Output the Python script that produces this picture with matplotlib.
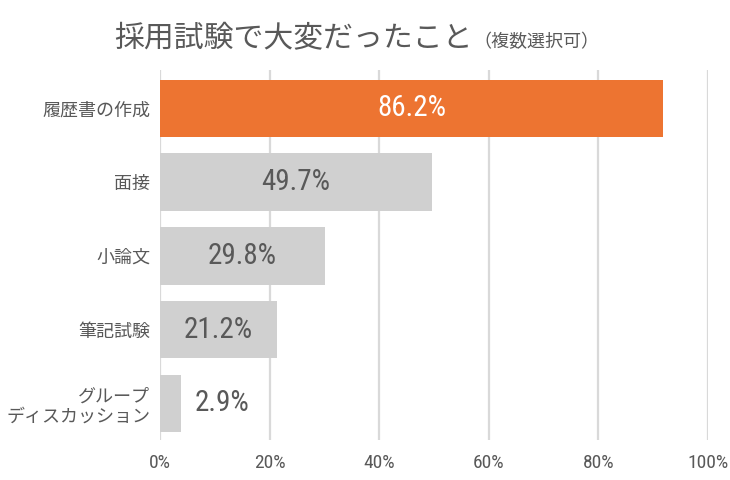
import matplotlib
matplotlib.use("Agg")
import matplotlib.pyplot as plt
from matplotlib import font_manager as fm

categories = ["履歴書の作成", "面接", "小論文", "筆記試験", "グループ\nディスカッション"]
bar_lengths = [91.8, 49.6, 30.1, 21.4, 3.9]      # bar lengths as drawn on the axis (%)
value_labels = ["86.2%", "49.7%", "29.8%", "21.2%", "2.9%"]
tick_values = [0, 20, 40, 60, 80, 100]
tick_labels = ["0%", "20%", "40%", "60%", "80%", "100%"]
title_main = "採用試験で大変だったこと"
title_sub = "（複数選択可）"

names = {f.name for f in fm.fontManager.ttflist}
cjk = "Noto Sans CJK JP"
num_font = cjk
for cand in ["Roboto Condensed", "Liberation Sans Narrow", "DejaVu Sans Condensed", "Open Sans Condensed"]:
    if cand in names:
        num_font = cand
        break

plt.rcParams["font.family"] = [cjk, "DejaVu Sans"]

TEXT = "#595959"
GRAY = "#d0d0d0"
ORANGE = "#ED7431"
GRID = "#d9d9d9"

fig = plt.figure(figsize=(7.3, 4.8), dpi=100)
ax = fig.add_axes([0.219, 0.083, 0.751, 0.771])

colors = [ORANGE] + [GRAY] * (len(categories) - 1)
ypos = list(range(len(categories)))
ax.barh(ypos, bar_lengths, height=0.78, color=colors, zorder=2)

ax.set_xlim(0, 100)
ax.set_ylim(len(categories) - 0.5, -0.52)
ax.set_xticks(tick_values)
ax.set_xticklabels(tick_labels, fontsize=14, color=TEXT, family=[num_font, cjk])
ax.set_yticks(ypos)
ax.set_yticklabels(categories, fontsize=13, color=TEXT, linespacing=1.2)
ax.tick_params(axis="x", length=0, pad=10)
ax.tick_params(axis="y", length=0, pad=7)
ax.xaxis.grid(True, color=GRID, linewidth=1.6, zorder=0)
ax.set_axisbelow(True)
for s in ax.spines.values():
    s.set_visible(False)

for i, (v, lab) in enumerate(zip(bar_lengths, value_labels)):
    if v > 10:
        ax.text(v / 2, i, lab, ha="center", va="center", fontsize=21,
                color="white" if i == 0 else TEXT, family=[num_font, cjk], zorder=3)
    else:
        ax.text(v + 2.5, i, lab, ha="left", va="center", fontsize=21,
                color=TEXT, family=[num_font, cjk], zorder=3)

fig.text(0.157, 0.92, title_main, fontsize=21.5, color=TEXT, ha="left", va="center")
fig.text(0.649, 0.913, title_sub, fontsize=13, color=TEXT, ha="left", va="center")

fig.savefig("out.png", dpi=100)
